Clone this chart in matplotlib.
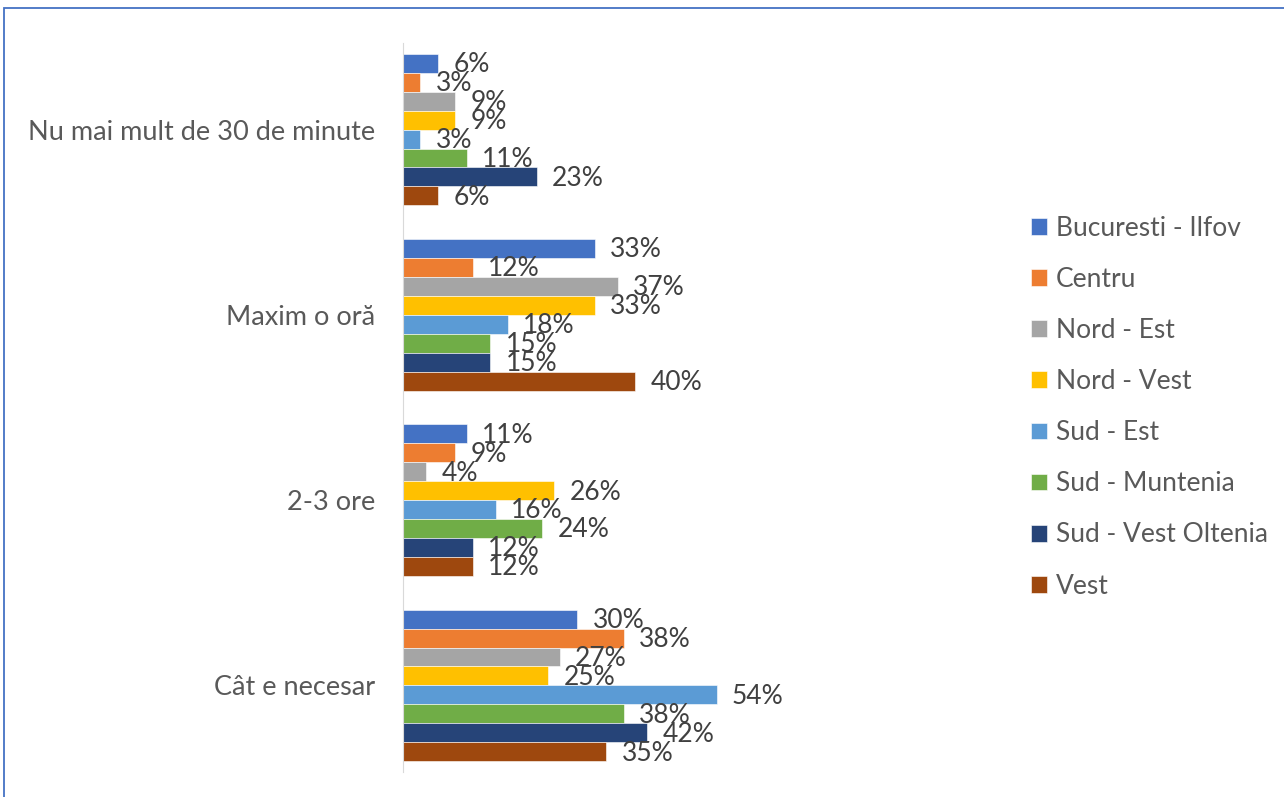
import matplotlib
matplotlib.use("Agg")
import matplotlib.pyplot as plt
import numpy as np
from matplotlib.patches import Rectangle

categories = ["Nu mai mult de 30 de minute", "Maxim o oră", "2-3 ore", "Cât e necesar"]
series = ["Bucuresti - Ilfov", "Centru", "Nord - Est", "Nord - Vest",
          "Sud - Est", "Sud - Muntenia", "Sud - Vest Oltenia", "Vest"]
bucuresti = [6, 33, 11, 30]
centru = [3, 12, 9, 38]
nord_est = [9, 37, 4, 27]
nord_vest = [9, 33, 26, 25]
sud_est = [3, 18, 16, 54]
sud_muntenia = [11, 15, 24, 38]
sud_vest = [23, 15, 12, 42]
vest = [6, 40, 12, 35]
values = [bucuresti, centru, nord_est, nord_vest, sud_est, sud_muntenia, sud_vest, vest]
colors = ["#4472C4", "#ED7D31", "#A5A5A5", "#FFC000", "#5B9BD5", "#70AD47", "#264478", "#9E480E"]

W, H = 1284, 797
fig = plt.figure(figsize=(W / 100, H / 100), dpi=100)
plt.rcParams['font.family'] = ['Lato', 'DejaVu Sans']

# axes geometry in pixels
ax_left, ax_top, ax_bottom = 403, 37, 778
px_per_pct = 5.81
xmax = 100
ax_w = px_per_pct * xmax
ax = fig.add_axes([ax_left / W, 1 - ax_bottom / H, ax_w / W, (ax_bottom - ax_top) / H])

n = len(series)
bh = 0.1022
y = np.arange(len(categories))
for i, (name, vals, c) in enumerate(zip(series, values, colors)):
    pos = y - (n / 2) * bh + (i + 0.5) * bh
    bars = ax.barh(pos, vals, height=bh, color=c, label=name, edgecolor="white", linewidth=0.4)
    for b, v in zip(bars, vals):
        ax.annotate(f"{v}%", xy=(v, b.get_y() + b.get_height() / 2), xytext=(11, -1),
                    textcoords="offset points", va="center", ha="left",
                    fontsize=19, color="#404040")

ax.set_ylim(len(categories) - 0.5, -0.5)
ax.set_xlim(0, xmax)
ax.set_yticks(y)
ax.set_yticklabels(categories, fontsize=19.5, color="#595959")
ax.tick_params(axis="y", length=0, pad=20)
ax.set_xticks([])
for s in ["top", "right", "bottom"]:
    ax.spines[s].set_visible(False)
ax.spines["left"].set_color("#D9D9D9")
ax.spines["left"].set_bounds(-0.47, 3.47)
ax.patch.set_alpha(0)

handles, labels = ax.get_legend_handles_labels()
leg = fig.legend(handles, labels, loc="upper left", bbox_to_anchor=(1007 / W, 1 - 192 / H),
                 frameon=False, fontsize=19, handlelength=0.6, handleheight=0.6,
                 handletextpad=0.35, labelspacing=0.99, labelcolor="#595959")

# outer border (blue)
fig.patches.append(Rectangle((3.5 / W, -0.1), 2.0, 1 - 8.5 / H + 0.1, transform=fig.transFigure,
                             fill=False, edgecolor="#4472C4", linewidth=1.3))

fig.savefig("out.png", dpi=100)
